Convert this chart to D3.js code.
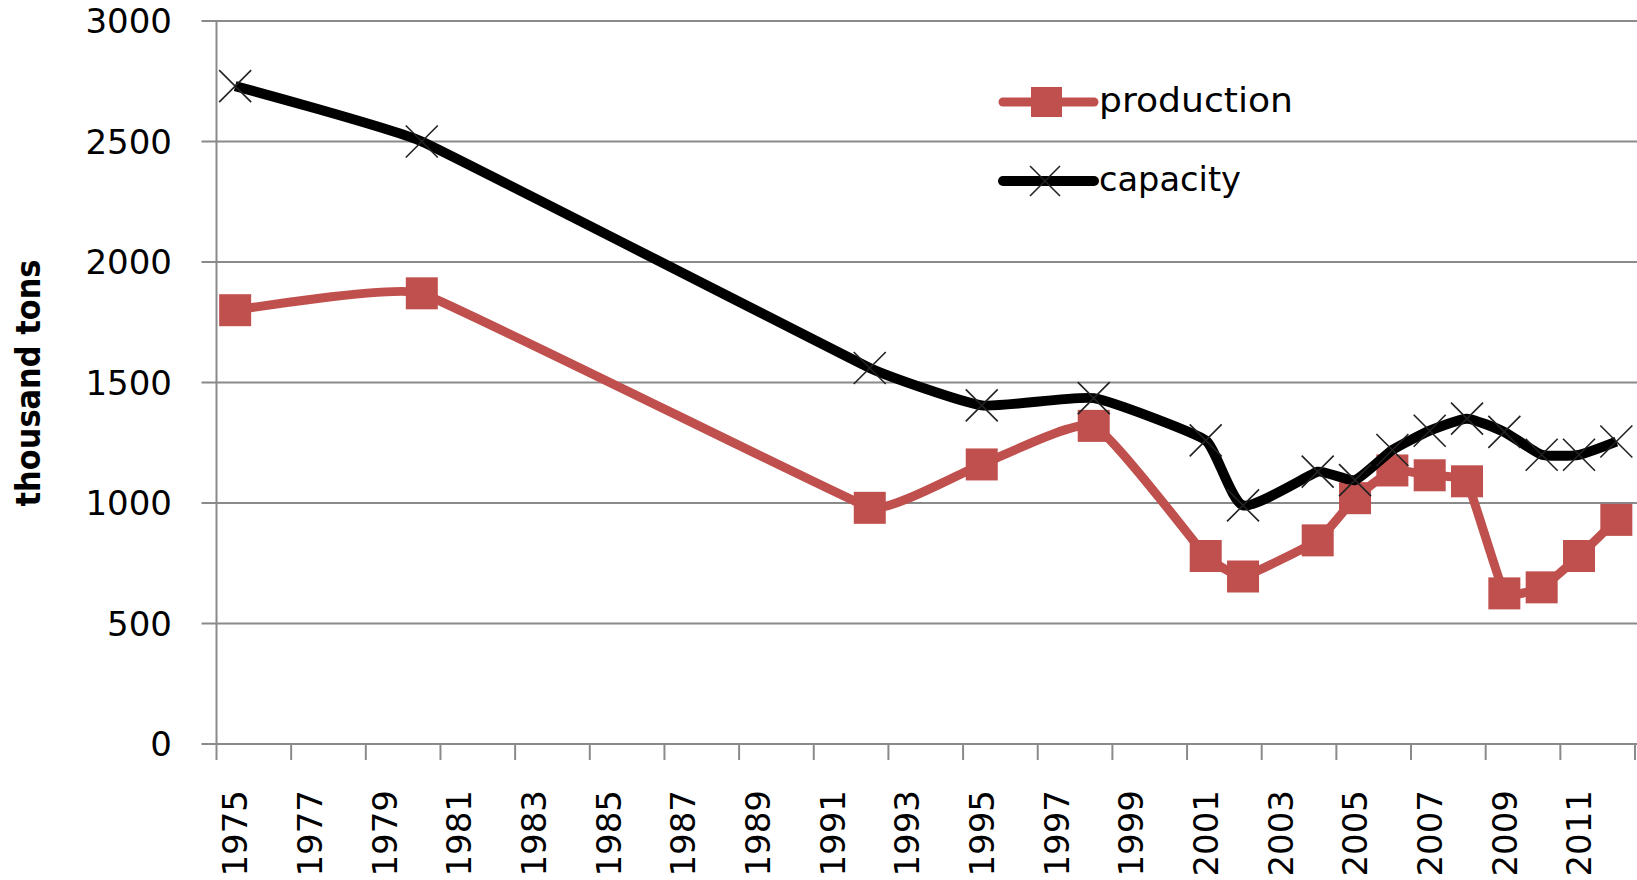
<!DOCTYPE html>
<html>
<head>
<meta charset="utf-8">
<script src="https://cdn.jsdelivr.net/npm/d3@7"></script>
<style>
  html, body { margin: 0; padding: 0; background: #fff; }
  svg { display: block; }
  text { font-family: "DejaVu Sans", Verdana, sans-serif; fill: #000; }
</style>
</head>
<body>
<svg id="chart" width="1637" height="880"></svg>
<script>
const years = [1975, 1980, 1992, 1995, 1998, 2001, 2002, 2004, 2005, 2006, 2007, 2008, 2009, 2010, 2011, 2012];
const production = [1800, 1870, 980, 1160, 1320, 780, 695, 845, 1020, 1135, 1115, 1090, 625, 650, 780, 930];
const capacity = [2730, 2500, 1560, 1405, 1435, 1260, 990, 1130, 1095, 1220, 1300, 1350, 1295, 1200, 1200, 1255];
const yTicks = [0, 500, 1000, 1500, 2000, 2500, 3000];
const axisYears = d3.range(1975, 2013);
const labelYears = d3.range(1975, 2013, 2);
const seriesNames = ["production", "capacity"];
const yTitle = "thousand tons";

const svg = d3.select("#chart");
const pLeft = 216.5, pRight = 1635, pTop = 21, pBottom = 744;
const red = "#C0504D", grid = "#8a8a8a";

const x = d3.scaleBand().domain(axisYears).range([pLeft, pRight]).padding(0);
const cx = yr => x(yr) + x.bandwidth() / 2;
const y = d3.scaleLinear().domain([0, 3000]).range([pBottom, pTop]);

// Smooth curve: tangent along neighbours, handle length limited by the shorter adjacent segment
function SoftCurve(context) { this._context = context; }
SoftCurve.prototype = {
  areaStart() {}, areaEnd() {},
  lineStart() { this._pts = []; },
  point(px, py) { this._pts.push([+px, +py]); },
  lineEnd() {
    const p = this._pts, c = this._context, n = p.length, k = 0.16;
    if (!n) return;
    const tan = p.map((pt, i) => {
      if (i === 0 || i === n - 1) return [0, 0];
      const dx = p[i + 1][0] - p[i - 1][0], dy = p[i + 1][1] - p[i - 1][1];
      const L = Math.hypot(dx, dy) || 1;
      const dPrev = Math.hypot(pt[0] - p[i - 1][0], pt[1] - p[i - 1][1]);
      const dNext = Math.hypot(p[i + 1][0] - pt[0], p[i + 1][1] - pt[1]);
      const h = k * Math.min(dPrev, dNext);
      return [dx / L * h, dy / L * h];
    });
    c.moveTo(p[0][0], p[0][1]);
    for (let i = 0; i < n - 1; i++) {
      c.bezierCurveTo(p[i][0] + tan[i][0], p[i][1] + tan[i][1],
        p[i + 1][0] - tan[i + 1][0], p[i + 1][1] - tan[i + 1][1],
        p[i + 1][0], p[i + 1][1]);
    }
  }
};
const softCurve = ctx => new SoftCurve(ctx);

// gridlines + y ticks
svg.append("g").selectAll("line").data(yTicks).join("line")
  .attr("x1", pLeft - 15).attr("x2", 1637)
  .attr("y1", d => y(d)).attr("y2", d => y(d))
  .attr("stroke", grid).attr("stroke-width", 2);

// y axis line
svg.append("line").attr("x1", pLeft).attr("x2", pLeft).attr("y1", y(3000)).attr("y2", pBottom)
  .attr("stroke", grid).attr("stroke-width", 2);

// y labels
svg.append("g").selectAll("text").data(yTicks).join("text")
  .attr("x", 172).attr("y", d => y(d)).attr("dy", "0.36em")
  .attr("text-anchor", "end").attr("font-size", 34).text(d => d);

// x ticks every 2 years at band boundaries
const tickYears = d3.range(1975, 2013, 2).concat([2013]);
svg.append("g").selectAll("line").data(tickYears).join("line")
  .attr("x1", d => d === 2013 ? pRight : x(d)).attr("x2", d => d === 2013 ? pRight : x(d))
  .attr("y1", pBottom).attr("y2", pBottom + 16)
  .attr("stroke", grid).attr("stroke-width", 2);

// x labels
svg.append("g").selectAll("text").data(labelYears).join("text")
  .attr("transform", d => `translate(${cx(d)},790) rotate(-90)`)
  .attr("dy", "0.36em").attr("text-anchor", "end").attr("font-size", 34).text(d => d);

// y title
svg.append("text")
  .attr("transform", "translate(28,383) rotate(-90)")
  .attr("dy", "0.36em").attr("text-anchor", "middle")
  .attr("font-size", 33).attr("font-weight", "bold")
  .attr("textLength", 247).attr("lengthAdjust", "spacingAndGlyphs")
  .text(yTitle);

const line = d3.line().x(d => cx(d[0])).y(d => y(d[1])).curve(softCurve);
const prodData = years.map((yr, i) => [yr, production[i]]);
const capData = years.map((yr, i) => [yr, capacity[i]]);

function xMarker(g, px, py, s) {
  g.append("path").attr("d", `M${px - s},${py - s}L${px + s},${py + s}M${px - s},${py + s}L${px + s},${py - s}`)
    .attr("stroke", "#222").attr("stroke-width", 1.6).attr("fill", "none");
}

// production
svg.append("path").datum(prodData).attr("d", line)
  .attr("fill", "none").attr("stroke", red).attr("stroke-width", 9).attr("stroke-linejoin", "round");
svg.append("g").selectAll("rect").data(prodData).join("rect")
  .attr("x", d => cx(d[0]) - 16).attr("y", d => y(d[1]) - 16)
  .attr("width", 32).attr("height", 32).attr("fill", red);

// capacity
svg.append("path").datum(capData).attr("d", line)
  .attr("fill", "none").attr("stroke", "#000").attr("stroke-width", 10).attr("stroke-linejoin", "round");
const mk = svg.append("g");
capData.forEach(d => xMarker(mk, cx(d[0]), y(d[1]), 16));

// legend
const leg = svg.append("g");
leg.append("line").attr("x1", 1003).attr("x2", 1094).attr("y1", 102).attr("y2", 102)
  .attr("stroke", red).attr("stroke-width", 9).attr("stroke-linecap", "round");
leg.append("rect").attr("x", 1031).attr("y", 87).attr("width", 31).attr("height", 30).attr("fill", red);
leg.append("text").attr("x", 1099).attr("y", 102).attr("dy", "0.3em").attr("font-size", 34)
  .attr("textLength", 194).attr("lengthAdjust", "spacingAndGlyphs").text(seriesNames[0]);
leg.append("line").attr("x1", 1003).attr("x2", 1094).attr("y1", 181).attr("y2", 181)
  .attr("stroke", "#000").attr("stroke-width", 10).attr("stroke-linecap", "round");
xMarker(leg, 1045, 181, 15);
leg.append("text").attr("x", 1099).attr("y", 181).attr("dy", "0.3em").attr("font-size", 34)
  .attr("textLength", 142).attr("lengthAdjust", "spacingAndGlyphs").text(seriesNames[1]);
</script>
</body>
</html>
